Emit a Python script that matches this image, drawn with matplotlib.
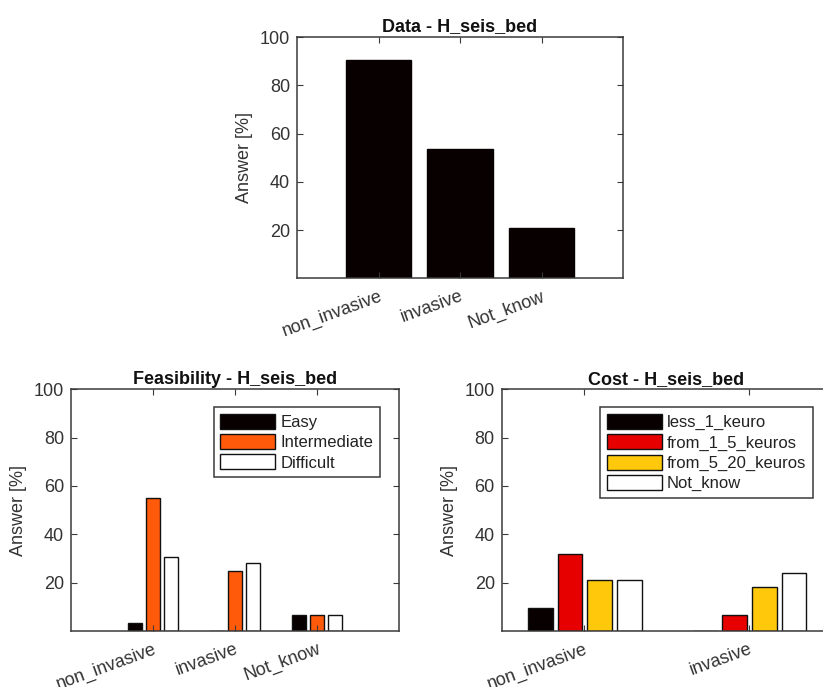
import numpy as np
import matplotlib.pyplot as plt

plt.rcParams['font.family'] = ['Liberation Sans', 'DejaVu Sans']

# ---- data ----
data_cats = ['non_invasive', 'invasive', 'Not_know']
data_vals = [90.5, 53.5, 21.0]

feas_cats = ['non_invasive', 'invasive', 'Not_know']
feas_series = ['Easy', 'Intermediate', 'Difficult']
feas_easy = [3.5, 0.0, 6.5]
feas_inter = [55.0, 25.0, 6.5]
feas_diff = [30.5, 28.0, 6.5]

cost_cats = ['non_invasive', 'invasive']
cost_series = ['less_1_keuro', 'from_1_5_keuros', 'from_5_20_keuros', 'Not_know']
cost_less1 = [9.5, 0.0]
cost_1_5 = [32.0, 6.5]
cost_5_20 = [21.0, 18.0]
cost_notknow = [21.0, 24.0]

AX_COL = '#3a3a3a'
TXT_COL = '#333333'


def style_axes(ax, cats, title):
    ax.set_ylim(0, 100)
    ax.set_yticks([20, 40, 60, 80, 100])
    ax.set_xticks(np.arange(1, len(cats) + 1))
    ax.set_xticklabels(cats, rotation=20, ha='right', rotation_mode='anchor')
    ax.tick_params(direction='in', length=4, top=True, right=True,
                   colors=AX_COL, labelcolor=TXT_COL, labelsize=13, pad=5)
    ax.tick_params(axis='x', pad=7)
    for s in ax.spines.values():
        s.set_color(AX_COL)
        s.set_linewidth(1.1)
    ax.set_ylabel('Answer [%]', fontsize=13, color=TXT_COL, labelpad=5)
    ax.set_title(title, fontsize=13, fontweight='bold', color='#111111', pad=4)


def style_legend(leg):
    leg.get_frame().set_edgecolor(AX_COL)
    leg.get_frame().set_linewidth(1.1)
    for t in leg.get_texts():
        t.set_color('#222222')


fig = plt.figure(figsize=(8.23, 6.87), dpi=100)

# ---- top: Data ----
ax1 = fig.add_axes([0.361, 0.595, 0.396, 0.351])
x = np.arange(1, len(data_cats) + 1)
ax1.bar(x, data_vals, width=0.8, color='#080000', edgecolor='#080000')
ax1.set_xlim(0, 4)
style_axes(ax1, data_cats, 'Data - H_seis_bed')

# ---- bottom left: Feasibility ----
ax2 = fig.add_axes([0.0863, 0.0815, 0.3985, 0.352])
x = np.arange(1, len(feas_cats) + 1)
w = 0.18
feas_colors = ['#080000', '#ff5a0a', 'white']
for i, (vals, name) in enumerate(zip([feas_easy, feas_inter, feas_diff], feas_series)):
    ax2.bar(x + (i - 1) * 0.22, vals, width=w, color=feas_colors[i],
            edgecolor='#111111', linewidth=1.0, label=name)
ax2.set_xlim(0, 4)
style_axes(ax2, feas_cats, 'Feasibility - H_seis_bed')
leg = ax2.legend(loc='upper right', bbox_to_anchor=(0.942, 0.926), borderaxespad=0,
                 fontsize=12, handlelength=3.3, handleheight=1.0, labelspacing=0.25,
                 handletextpad=0.3, borderpad=0.4, fancybox=False, framealpha=1)
style_legend(leg)

# ---- bottom right: Cost ----
ax3 = fig.add_axes([0.6096, 0.0815, 0.40, 0.352])
x = np.arange(1, len(cost_cats) + 1)
w = 0.15
cost_colors = ['#080000', '#e60000', '#ffc80a', 'white']
offs = [-0.265, -0.085, 0.095, 0.275]
for i, (vals, name) in enumerate(zip([cost_less1, cost_1_5, cost_5_20, cost_notknow], cost_series)):
    ax3.bar(x + offs[i], vals, width=w, color=cost_colors[i],
            edgecolor='#111111', linewidth=1.0, label=name)
ax3.set_xlim(0.5, 2.5)
style_axes(ax3, cost_cats, 'Cost - H_seis_bed')
leg = ax3.legend(loc='upper right', bbox_to_anchor=(0.945, 0.926), borderaxespad=0,
                 fontsize=12, handlelength=3.3, handleheight=1.0, labelspacing=0.25,
                 handletextpad=0.3, borderpad=0.4, fancybox=False, framealpha=1)
style_legend(leg)

fig.savefig('out.png', dpi=100)
